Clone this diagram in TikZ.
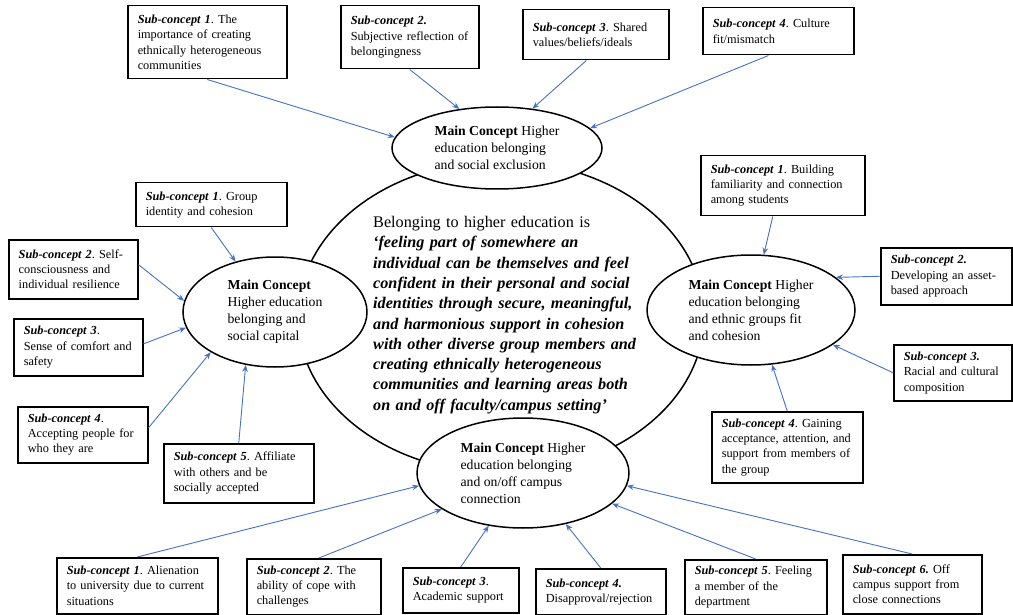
\documentclass[tikz,border=0pt]{standalone}
\usepackage{fontspec}
\setmainfont{Liberation Serif}
\usetikzlibrary{shapes.geometric,arrows.meta}
\definecolor{arrowblue}{HTML}{4472C4}
\newcommand{\subc}[1]{\textbf{\textit{Sub-concept #1}}}
\frenchspacing
\begin{document}
\begin{tikzpicture}[x=1pt,y=-1pt,
  subbox/.style={draw,line width=1.5pt,inner xsep=10pt,inner ysep=3pt,align=left,
    anchor=north west,font=\fontsize{12.3}{15.3}\selectfont},
  mainc/.style={draw,ellipse,line width=1.5pt,fill=white,inner sep=0pt,align=left,
    font=\fontsize{13.7}{17}\selectfont}]
\useasboundingbox (0,0) rectangle (1013,615);
% definition in the middle
\node[mainc,minimum width=406pt,minimum height=312pt] (core) at (501,317) {};
\node[anchor=west,inner sep=0pt,text width=280pt,align=left,
  font=\fontsize{16.2}{20.3}\selectfont] (def) at (373,315)
  {Belonging to higher education is\\
  {\bfseries\itshape ‘feeling part of somewhere an\\
  individual can be themselves and feel\\
  confident in their personal and social\\
  identities through secure, meaningful,\\
  and harmonious support in cohesion\\
  with other diverse group members and\\
  creating ethnically heterogeneous\\
  communities and learning areas both\\
  on and off faculty/campus setting’}};
% main concepts
\node[mainc,minimum width=210pt,minimum height=82pt] (excl) at (497,148)
  {\textbf{Main Concept} Higher\\ education belonging\\ and social exclusion};
\node[mainc,minimum width=184pt,minimum height=110pt] (capital) at (275,312)
  {\textbf{Main Concept}\\ Higher education\\ belonging and\\ social capital};
\node[mainc,minimum width=208pt,minimum height=110pt] (ethnic) at (751,310)
  {\textbf{Main Concept} Higher\\ education belonging\\ and ethnic groups fit\\ and cohesion};
\node[mainc,minimum width=212pt,minimum height=110pt] (campus) at (523,473)
  {\textbf{Main Concept} Higher\\ education belonging\\ and on/off campus\\ connection};
% sub-concepts, top
\node[subbox,text width=139pt,minimum height=73pt] (t1) at (127,5)
  {\subc{1}. The\\ importance of creating\\ ethnically heterogeneous\\ communities};
\node[subbox,text width=118pt,minimum height=63pt] (t2) at (340,5)
  {\subc{2.}\\ Subjective reflection of\\ belongingness};
\node[subbox,text width=126pt,minimum height=50pt] (t3) at (522,9)
  {\subc{3}. Shared\\ values/beliefs/ideals};
\node[subbox,text width=131pt,minimum height=47pt] (t4) at (702,7)
  {\subc{4}. Culture\\ fit/mismatch};
% sub-concepts, left
\node[subbox,text width=131pt,minimum height=44pt] (l1) at (135,182)
  {\subc{1}. Group\\ identity and cohesion};
\node[subbox,text width=109pt,minimum height=59pt] (l2) at (8,239)
  {\subc{2}. Self-\\ consciousness and\\ individual resilience};
\node[subbox,text width=109pt,minimum height=57pt] (l3) at (13,318)
  {\subc{3}.\\ Sense of comfort and\\ safety};
\node[subbox,text width=110pt,minimum height=56pt] (l4) at (17,406)
  {\subc{4}.\\ Accepting people for\\ who they are};
\node[subbox,text width=130pt,minimum height=59pt] (l5) at (163,443)
  {\subc{5}. Affiliate\\ with others and be\\ socially accepted};
% sub-concepts, right
\node[subbox,text width=144pt,minimum height=60pt] (r1) at (700,155)
  {\subc{1}. Building\\ familiarity and connection\\ among students};
\node[subbox,text width=111pt,minimum height=57pt] (r2) at (880,247)
  {\subc{2.}\\ Developing an asset-\\ based approach};
\node[subbox,text width=98pt,minimum height=56pt] (r3) at (893,344)
  {\subc{3.}\\ Racial and cultural\\ composition};
\node[subbox,text width=131pt,minimum height=71pt] (r4) at (711,411)
  {\subc{4}. Gaining\\ acceptance, attention, and\\ support from members of\\ the group};
% sub-concepts, bottom
\node[subbox,text width=141pt,minimum height=56pt] (b1) at (56,557)
  {\subc{1}. Alienation\\ to university due to current\\ situations};
\node[subbox,text width=114pt,minimum height=56pt] (b2) at (246,558)
  {\subc{2}. The\\ ability of cope with\\ challenges};
\node[subbox,text width=96pt,minimum height=45pt] (b3) at (402,567)
  {\subc{3}.\\ Academic support};
\node[subbox,text width=110pt,minimum height=46pt] (b4) at (535,568)
  {\subc{4.}\\ Disapproval/rejection};
\node[subbox,text width=122pt,minimum height=55pt] (b5) at (684,559)
  {\subc{5}. Feeling\\ a member of the\\ department};
\node[subbox,text width=119pt,minimum height=59pt] (b6) at (842,554)
  {\subc{6.} Off\\ campus support from\\ close connections};
% arrows into the main concepts
\foreach \s/\e in {t1.south/excl.174,t2.south/excl.134,t3.250/excl.48,t4.248/excl.12,
  l1.south/capital.128,l2.4/capital.173,l3.3/capital.190,l4.6/capital.212,l5.north/capital.241,
  r1.252/ethnic.77,r2.west/ethnic.21,r3.west/ethnic.337,r4.north/ethnic.291,
  b1.north/campus.187,b2.80/campus.204,b3.north/campus.237,b4.north/campus.310,
  b5.north/campus.341,b6.north/campus.353}
\draw[->,>={Stealth[length=7pt,width=5.5pt]},arrowblue,line width=0.9pt](\s)--(\e);
\end{tikzpicture}
\end{document}
